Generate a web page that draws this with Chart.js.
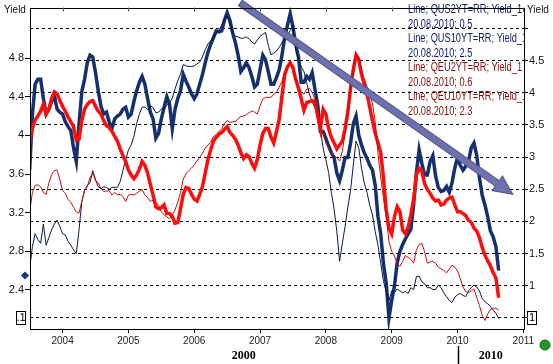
<!DOCTYPE html>
<html>
<head>
<meta charset="utf-8">
<script src="https://cdn.jsdelivr.net/npm/chart.js@4.4.0/dist/chart.umd.min.js"></script>
<style>
	html, body { margin: 0; padding: 0; background: #fff; }
	#wrap { width: 553px; height: 364px; }
</style>
</head>
<body>
<div id="wrap"><canvas id="yieldChart" width="553" height="364"></canvas></div>
<script>
// Jul 2003 .. Aug 2010, two readings a month (1st and 16th)
var months = [
	'2003-07','2003-08','2003-09','2003-10','2003-11','2003-12',
	'2004-01','2004-02','2004-03','2004-04','2004-05','2004-06','2004-07','2004-08','2004-09','2004-10','2004-11','2004-12',
	'2005-01','2005-02','2005-03','2005-04','2005-05','2005-06','2005-07','2005-08','2005-09','2005-10','2005-11','2005-12',
	'2006-01','2006-02','2006-03','2006-04','2006-05','2006-06','2006-07','2006-08','2006-09','2006-10','2006-11','2006-12',
	'2007-01','2007-02','2007-03','2007-04','2007-05','2007-06','2007-07','2007-08','2007-09','2007-10','2007-11','2007-12',
	'2008-01','2008-02','2008-03','2008-04','2008-05','2008-06','2008-07','2008-08','2008-09','2008-10','2008-11','2008-12',
	'2009-01','2009-02','2009-03','2009-04','2009-05','2009-06','2009-07','2009-08','2009-09','2009-10','2009-11','2009-12',
	'2010-01','2010-02','2010-03','2010-04','2010-05','2010-06','2010-07','2010-08'
]

// US 10y, left axis
var us10yDay1 = [
	3.64, 4.53, 4.58, 4.22, 4.35, 4.27,
	4.22, 4.09, 3.87, 4.12, 4.58, 4.83, 4.65, 4.30, 4.24, 4.07, 4.20, 4.27,
	4.19, 4.35, 4.55, 4.53, 4.24, 3.97, 4.17, 4.40, 4.07, 4.38, 4.63, 4.50,
	4.38, 4.53, 4.75, 4.94, 5.08, 5.08, 5.27, 5.06, 4.83, 4.70, 4.70, 4.50,
	4.68, 4.78, 4.53, 4.60, 4.83, 5.14, 5.12, 4.81, 4.55, 4.58, 4.48, 4.04,
	3.97, 3.82, 3.61, 3.64, 3.77, 4.12, 4.00, 3.82, 3.69, 3.48, 2.98, 2.47,
	2.29, 2.68, 2.87, 2.98, 3.28, 3.85, 3.59, 3.73, 3.58, 3.42, 3.47, 3.51,
	3.77, 3.64, 3.73, 3.92, 3.56, 3.28, 3.01, 2.85
]
var us10yDay16 = [
	4.22, 4.58, 4.38, 4.27, 4.41, 4.24,
	4.14, 4.05, 3.73, 4.45, 4.75, 4.81, 4.46, 4.22, 4.14, 4.17, 4.22, 4.29,
	4.22, 4.46, 4.61, 4.38, 4.17, 4.02, 4.29, 4.32, 4.27, 4.46, 4.56, 4.43,
	4.43, 4.63, 4.86, 5.01, 5.07, 5.19, 5.19, 4.96, 4.66, 4.75, 4.61, 4.53,
	4.83, 4.66, 4.53, 4.68, 5.02, 5.26, 4.94, 4.55, 4.61, 4.65, 4.32, 4.04,
	3.89, 3.77, 3.53, 3.77, 3.92, 4.20, 3.90, 3.76, 3.64, 3.16, 2.67, 2.11,
	2.44, 2.80, 2.93, 3.03, 3.61, 3.71, 3.59, 3.79, 3.46, 3.43, 3.41, 3.66,
	3.69, 3.68, 3.87, 3.79, 3.38, 3.16, 2.95, 2.60
]

// US 2y, right axis
var us2yDay1 = [
	1.27, 1.81, 1.66, 1.63, 1.87, 2.02,
	1.81, 1.69, 1.56, 1.87, 2.48, 2.60, 2.65, 2.51, 2.53, 2.53, 2.53, 2.79,
	3.11, 3.32, 3.67, 3.78, 3.80, 3.69, 3.75, 3.81, 3.92, 4.19, 4.44, 4.41,
	4.42, 4.48, 4.67, 4.81, 4.93, 5.05, 5.20, 4.94, 4.87, 4.85, 4.84, 4.76,
	4.88, 4.94, 4.59, 4.65, 4.78, 4.90, 5.05, 4.52, 4.33, 3.98, 3.77, 3.44,
	2.96, 2.45, 1.84, 1.66, 2.22, 2.88, 3.14, 2.60, 2.25, 1.84, 1.35, 0.91,
	0.92, 0.95, 0.89, 0.88, 0.94, 1.15, 1.03, 0.97, 0.94, 0.97, 0.83, 0.74,
	0.86, 0.85, 0.92, 1.01, 0.92, 0.75, 0.68, 0.57
]
var us2yDay16 = [
	1.61, 1.72, 1.96, 1.75, 1.96, 1.92,
	1.79, 1.63, 1.50, 2.30, 2.56, 2.79, 2.54, 2.54, 2.50, 2.53, 2.62, 2.96,
	3.19, 3.52, 3.78, 3.74, 3.77, 3.70, 3.75, 3.84, 4.06, 4.29, 4.42, 4.41,
	4.45, 4.56, 4.76, 4.87, 4.97, 5.14, 5.08, 4.88, 4.85, 4.87, 4.79, 4.82,
	4.91, 4.74, 4.62, 4.71, 4.84, 4.97, 4.67, 4.41, 4.16, 3.86, 3.64, 3.14,
	2.76, 2.19, 1.38, 1.92, 2.48, 3.25, 2.83, 2.45, 2.10, 1.63, 1.07, 0.77,
	0.89, 0.92, 0.91, 0.97, 1.14, 1.06, 0.97, 0.94, 1.01, 0.89, 0.77, 0.82,
	0.88, 0.83, 0.97, 0.98, 0.80, 0.72, 0.62, 0.49
]

// EU 10y, left axis
var eu10yDay1 = [
	3.92, 4.16, 4.25, 4.22, 4.38, 4.43,
	4.30, 4.19, 4.09, 3.96, 4.27, 4.35, 4.30, 4.22, 4.10, 4.04, 3.94, 3.79,
	3.64, 3.55, 3.65, 3.69, 3.49, 3.26, 3.25, 3.19, 3.16, 3.10, 3.39, 3.45,
	3.34, 3.39, 3.61, 3.85, 3.98, 4.03, 4.09, 4.00, 3.90, 3.76, 3.78, 3.66,
	3.90, 4.07, 3.98, 4.04, 4.41, 4.71, 4.70, 4.49, 4.26, 4.35, 4.35, 4.07,
	4.22, 3.98, 3.86, 3.94, 4.24, 4.68, 4.78, 4.53, 4.29, 4.02, 3.82, 3.23,
	2.98, 3.26, 3.02, 3.05, 3.34, 3.66, 3.50, 3.40, 3.32, 3.28, 3.33, 3.36,
	3.21, 3.19, 3.12, 3.04, 2.94, 2.76, 2.65, 2.52
]
var eu10yDay16 = [
	4.07, 4.20, 4.32, 4.27, 4.45, 4.36,
	4.25, 4.14, 3.95, 4.15, 4.32, 4.36, 4.25, 4.15, 4.08, 3.99, 3.86, 3.73,
	3.59, 3.59, 3.73, 3.61, 3.38, 3.24, 3.28, 3.19, 3.09, 3.24, 3.46, 3.39,
	3.32, 3.47, 3.75, 3.94, 4.01, 4.06, 4.03, 3.96, 3.82, 3.80, 3.71, 3.75,
	4.02, 4.07, 3.92, 4.17, 4.63, 4.75, 4.58, 4.38, 4.34, 4.36, 4.20, 4.27,
	4.07, 3.92, 3.90, 4.07, 4.49, 4.83, 4.63, 4.43, 4.15, 3.92, 3.56, 3.04,
	3.16, 3.21, 2.98, 3.18, 3.59, 3.63, 3.44, 3.35, 3.33, 3.29, 3.35, 3.28,
	3.21, 3.17, 3.10, 3.01, 2.84, 2.70, 2.58, 2.32
]

// EU 2y, right axis
var eu2yDay1 = [
	2.15, 2.56, 2.54, 2.42, 2.73, 2.80,
	2.48, 2.34, 2.22, 2.13, 2.48, 2.68, 2.63, 2.51, 2.47, 2.41, 2.42, 2.39,
	2.41, 2.41, 2.47, 2.41, 2.31, 2.30, 2.15, 2.07, 2.10, 2.30, 2.66, 2.79,
	2.88, 3.00, 3.14, 3.23, 3.35, 3.44, 3.57, 3.55, 3.60, 3.64, 3.69, 3.70,
	3.80, 3.93, 3.93, 4.01, 4.18, 4.39, 4.41, 4.10, 3.98, 4.07, 3.90, 3.52,
	3.22, 3.06, 2.99, 3.09, 3.70, 4.41, 4.56, 4.21, 3.98, 3.55, 2.68, 2.07,
	1.53, 1.35, 1.38, 1.44, 1.35, 1.64, 1.53, 1.37, 1.35, 1.26, 1.20, 1.32,
	1.23, 0.98, 0.89, 0.95, 0.69, 0.46, 0.63, 0.65
]
var eu2yDay16 = [
	2.45, 2.57, 2.45, 2.60, 2.79, 2.65,
	2.44, 2.30, 2.15, 2.31, 2.54, 2.76, 2.60, 2.47, 2.48, 2.45, 2.42, 2.31,
	2.42, 2.44, 2.50, 2.37, 2.33, 2.24, 2.10, 2.04, 2.18, 2.45, 2.74, 2.83,
	2.94, 3.06, 3.19, 3.32, 3.40, 3.52, 3.54, 3.55, 3.63, 3.66, 3.72, 3.67,
	3.90, 3.93, 3.98, 4.09, 4.32, 4.48, 4.21, 4.01, 4.06, 4.01, 3.70, 3.37,
	3.14, 3.03, 2.94, 3.37, 4.06, 4.62, 4.36, 4.10, 3.83, 3.06, 2.37, 1.69,
	1.46, 1.30, 1.47, 1.41, 1.56, 1.66, 1.35, 1.38, 1.29, 1.24, 1.26, 1.29,
	1.11, 0.91, 0.92, 0.82, 0.54, 0.56, 0.65, 0.62
]

var yearTicks = [2004, 2005, 2006, 2007, 2008, 2009, 2010, 2011]
var leftTicks = [2.4, 2.8, 3.2, 3.6, 4, 4.4, 4.8]
var rightTicks = [0.5, 1, 1.5, 2, 2.5, 3, 3.5, 4, 4.5, 5]
var legendRows = [
	['Line; QUS2YT=RR; Yield_1', 'us'],
	['20.08.2010; 0.5', 'us'],
	['Line; QUS10YT=RR; Yield_1', 'us'],
	['20.08.2010; 2.5', 'us'],
	['Line; QEU2YT=RR; Yield_1', 'eu'],
	['20.08.2010; 0.6', 'eu'],
	['Line; QEU10YT=RR; Yield_1', 'eu'],
	['20.08.2010; 2.3', 'eu']
]
var lastMarker = 2.55
var arrowFrom = [2006.70, 5.37]
var arrowTo = [2010.84, 3.39]

var NARROW = "'Liberation Sans Narrow', 'Liberation Sans', Arial, sans-serif"

function monthStart( m ) {
	var p = m.split('-')
	return +p[0] + (+p[1] - 1) / 12
}

function series( day1, day16 ) {
	var out = []
	for( var i = 0; i < months.length; i++ ) {
		out.push({ x: monthStart(months[i]), y: day1[i] })
		out.push({ x: monthStart(months[i]) + 1 / 24, y: day16[i] })
	}
	return out
}

function fixTicks( list ) {
	return function( scale ) {
		scale.ticks = list.map(function(v) { return { value: v } })
	}
}

var overlay = {
	id: 'overlay',
	afterDatasetsDraw: function( chart ) {
		var ctx = chart.ctx
		var a = chart.chartArea
		var sx = chart.scales.x, yl = chart.scales.yL
		ctx.save()

		// legend text, cut at the plot edge
		ctx.save()
		ctx.beginPath()
		ctx.rect(a.left, 0, a.right - a.left, a.bottom)
		ctx.clip()
		ctx.font = '12.5px "Liberation Sans", Arial, sans-serif'
		ctx.textBaseline = 'middle'
		for( var i = 0; i < legendRows.length; i++ ) {
			ctx.save()
			ctx.fillStyle = legendRows[i][1] == 'us' ? '#0d1a66' : '#8a0c0c'
			ctx.translate(a.right - 116, 10 + i * 14.5)
			ctx.scale(0.74, 1)
			ctx.fillText(legendRows[i][0], 0, 0)
			ctx.restore()
		}
		ctx.restore()

		// trend arrow
		var x0 = sx.getPixelForValue(arrowFrom[0]), y0 = yl.getPixelForValue(arrowFrom[1])
		var x1 = sx.getPixelForValue(arrowTo[0]), y1 = yl.getPixelForValue(arrowTo[1])
		var ang = Math.atan2(y1 - y0, x1 - x0)
		var len = Math.sqrt((x1 - x0) * (x1 - x0) + (y1 - y0) * (y1 - y0))
		var hl = 19, hw = 9, sw = 3.3
		ctx.save()
		ctx.translate(x0, y0)
		ctx.rotate(ang)
		ctx.beginPath()
		ctx.moveTo(0, -sw)
		ctx.lineTo(len - hl, -sw)
		ctx.lineTo(len - hl, -hw)
		ctx.lineTo(len, 0)
		ctx.lineTo(len - hl, hw)
		ctx.lineTo(len - hl, sw)
		ctx.lineTo(0, sw)
		ctx.closePath()
		ctx.fillStyle = '#6e71ae'
		ctx.fill()
		ctx.lineWidth = 1
		ctx.strokeStyle = '#4e518c'
		ctx.stroke()
		ctx.restore()

		ctx.restore()
	},
	afterDraw: function( chart ) {
		var ctx = chart.ctx
		var a = chart.chartArea
		var sx = chart.scales.x, yl = chart.scales.yL, yr = chart.scales.yR
		ctx.save()

		// frame
		ctx.strokeStyle = '#000'
		ctx.lineWidth = 1
		ctx.strokeRect(Math.round(a.left) + 0.5, Math.round(a.top) + 0.5, Math.round(a.right - a.left), Math.round(a.bottom - a.top))
		// small ticks on the top edge
		ctx.strokeStyle = '#555'
		for( var i = 0; i < yearTicks.length; i++ ) {
			var tx = Math.round(sx.getPixelForValue(yearTicks[i])) + 0.5
			ctx.beginPath()
			ctx.moveTo(tx, a.top)
			ctx.lineTo(tx, a.top + 4)
			ctx.stroke()
		}

		// axis titles
		ctx.fillStyle = '#111'
		ctx.font = '10px ' + NARROW
		ctx.textBaseline = 'middle'
		ctx.textAlign = 'center'
		ctx.fillText('Yield', 15, 10)
		ctx.fillText('Yield', a.right + 14, 10)

		// boxes on the bottom gridline
		var by = Math.round(yr.getPixelForValue(0.5))
		ctx.strokeStyle = '#000'
		ctx.fillStyle = '#fff'
		ctx.fillRect(a.left - 14, by - 7, 10, 14)
		ctx.strokeRect(a.left - 13.5, by - 6.5, 9, 13)
		ctx.fillRect(a.right + 3, by - 7, 10, 14)
		ctx.strokeRect(a.right + 3.5, by - 6.5, 9, 13)
		ctx.fillStyle = '#000'
		ctx.font = '11px ' + NARROW
		ctx.fillText('.1', a.left - 9, by)
		ctx.fillText('1', a.right + 8, by)

		// last value marker on the left axis
		var my = yl.getPixelForValue(lastMarker)
		var mx = a.left - 5
		ctx.beginPath()
		ctx.moveTo(mx, my - 4)
		ctx.lineTo(mx + 4, my)
		ctx.lineTo(mx, my + 4)
		ctx.lineTo(mx - 4, my)
		ctx.closePath()
		ctx.fillStyle = '#1b3580'
		ctx.fill()

		// decade row
		var xd = sx.getPixelForValue(2010)
		ctx.strokeStyle = '#000'
		ctx.lineWidth = 1.5
		ctx.beginPath()
		ctx.moveTo(Math.round(xd) + 0.5, a.bottom + 17)
		ctx.lineTo(Math.round(xd) + 0.5, chart.height)
		ctx.stroke()
		ctx.fillStyle = '#000'
		ctx.font = 'bold 12px "Liberation Serif", "Times New Roman", serif'
		ctx.fillText('2000', (a.left + xd) / 2, a.bottom + 27)
		ctx.fillText('2010', (xd + a.right) / 2, a.bottom + 27)

		// status dot
		ctx.beginPath()
		ctx.arc(chart.width - 8, a.bottom + 16, 5, 0, Math.PI * 2)
		ctx.fillStyle = '#1f9a22'
		ctx.fill()
		ctx.lineWidth = 1
		ctx.strokeStyle = '#0c5f10'
		ctx.stroke()

		ctx.restore()
	}
}

function yieldChart() {
	var ctx = document.getElementById('yieldChart')
	var cfg = {
		type: 'line',
		data: {
			datasets: [
				{
					label: 'QEU2YT=RR',
					data: series(eu2yDay1, eu2yDay16),
					yAxisID: 'yR',
					borderColor: '#c80f0f',
					borderWidth: 1,
					order: 1
				}, {
					label: 'QEU10YT=RR',
					data: series(eu10yDay1, eu10yDay16),
					yAxisID: 'yL',
					borderColor: '#ff0c0c',
					borderWidth: 3.5,
					order: 2
				}, {
					label: 'QUS2YT=RR',
					data: series(us2yDay1, us2yDay16),
					yAxisID: 'yR',
					borderColor: '#0c1748',
					borderWidth: 1,
					order: 3
				}, {
					label: 'QUS10YT=RR',
					data: series(us10yDay1, us10yDay16),
					yAxisID: 'yL',
					borderColor: '#14306e',
					borderWidth: 3.5,
					order: 4
				}
			]
		},
		options: {
			responsive: false,
			animation: false,
			devicePixelRatio: 1,
			layout: { padding: { top: 2, left: 0, right: 0, bottom: 0 } },
			elements: {
				point: { radius: 0 },
				line: { tension: 0, fill: false }
			},
			plugins: {
				legend: { display: false },
				tooltip: { enabled: false }
			},
			scales: {
				x: {
					type: 'linear',
					min: 2003.505,
					max: 2011.01,
					afterBuildTicks: fixTicks(yearTicks),
					afterFit: function(s) { s.height = 35 },
					border: { display: false },
					grid: { drawOnChartArea: false, color: '#000', tickLength: 4 },
					ticks: {
						color: '#222',
						padding: 2,
						maxRotation: 0,
						autoSkip: false,
						font: { family: NARROW, size: 10 },
						callback: function(v) { return String(v) }
					}
				},
				yL: {
					type: 'linear',
					position: 'left',
					min: 1.996,
					max: 5.322,
					afterBuildTicks: fixTicks(leftTicks),
					afterFit: function(s) { s.width = 30 },
					border: { display: false },
					grid: { drawOnChartArea: false, color: '#000', tickLength: 5 },
					ticks: {
						color: '#111',
						padding: 1,
						font: { family: NARROW, size: 11 },
						callback: function(v) { return String(v) }
					}
				},
				yR: {
					type: 'linear',
					position: 'right',
					min: 0.327,
					max: 5.326,
					afterBuildTicks: fixTicks(rightTicks),
					afterFit: function(s) { s.width = 29 },
					border: { display: false, dash: [3, 3] },
					grid: { drawOnChartArea: true, color: '#000', tickLength: 4 },
					ticks: {
						color: '#111',
						padding: 1,
						font: { family: NARROW, size: 11 },
						callback: function(v) { return (v == 0.5 || v == 5) ? '' : String(v) }
					}
				}
			}
		},
		plugins: [overlay]
	}
	var myChart = new Chart( ctx, cfg )
}

yieldChart()
</script>
</body>
</html>
